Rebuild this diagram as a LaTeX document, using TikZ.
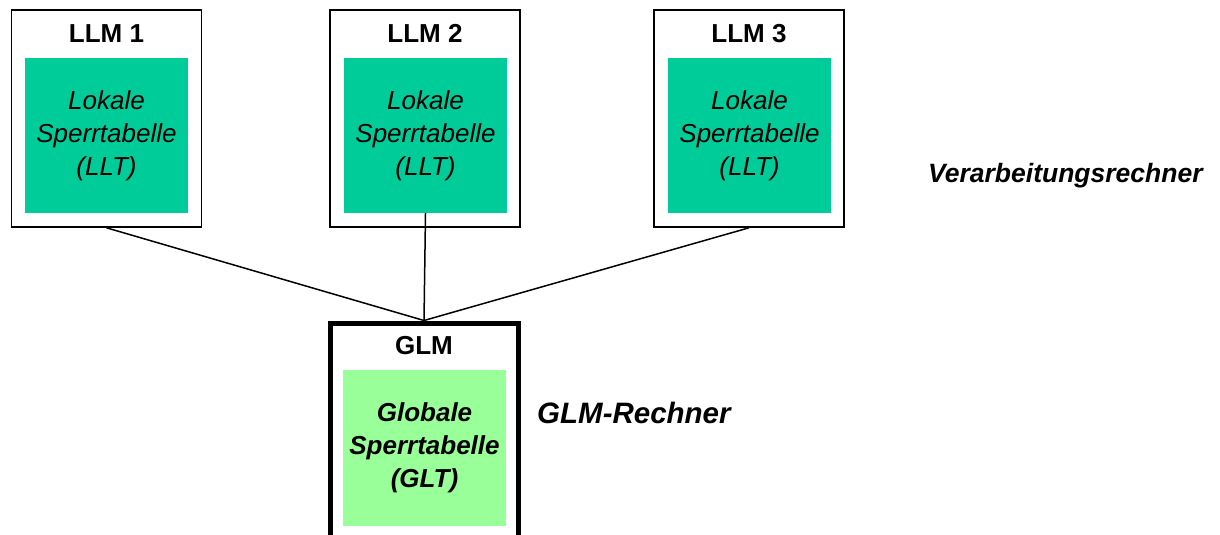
\documentclass[tikz,border=0pt]{standalone}
\usepackage{fontspec}
\setmainfont{Liberation Sans}
\definecolor{llt}{RGB}{0,204,153}
\definecolor{glt}{RGB}{153,255,153}
\begin{document}
\begin{tikzpicture}[x=1pt,y=-1pt,
  llmbox/.style={draw=black,line width=1.6pt,fill=white,minimum width=190pt,minimum height=217pt,inner sep=0pt},
  glmbox/.style={draw=black,line width=5pt,fill=white,minimum width=188pt,minimum height=260pt,inner sep=0pt},
  lltbox/.style={fill=llt,minimum width=163pt,minimum height=155pt,inner sep=0pt,align=center,font=\fontsize{26}{33}\selectfont\itshape},
  gltbox/.style={fill=glt,minimum width=163pt,minimum height=156pt,inner sep=0pt,align=center,font=\fontsize{26}{33}\selectfont\bfseries\itshape},
  title/.style={inner sep=0pt,anchor=base,font=\fontsize{26}{30}\selectfont\bfseries},
  side/.style={inner sep=0pt,anchor=base west,font=\bfseries\itshape},
  conn/.style={draw=black,line width=1.5pt}]
\useasboundingbox (0,0) rectangle (1220,535);
\clip (0,0) rectangle (1220,535);
\fill[white] (0,0) rectangle (1220,535);

% LLM boxes
\node[llmbox] (llm1) at (106.5,118.5) {};
\node[llmbox] (llm2) at (425,118.5) {};
\node[llmbox] (llm3) at (749,118.5) {};
\node[title] (t1) at (106.5,43) {LLM 1};
\node[title] (t2) at (425,43) {LLM 2};
\node[title] (t3) at (749,43) {LLM 3};
\node[lltbox] (g1) at (106.5,135.5) {Lokale\\Sperrtabelle\\(LLT)};
\node[lltbox] (g2) at (425.5,135.5) {Lokale\\Sperrtabelle\\(LLT)};
\node[lltbox] (g3) at (749.5,135.5) {Lokale\\Sperrtabelle\\(LLT)};

% GLM box (extends past the lower edge)
\node[glmbox] (glm) at (424,453) {};
\node[title] (tg) at (424,354) {GLM};
\node[gltbox] (gg) at (424.5,448) {Globale\\Sperrtabelle\\(GLT)};

% connectors
\draw[conn] (llm1.south) -- (glm.north);
\draw[conn] (g2.south) -- (glm.north);
\draw[conn] (llm3.south) -- (glm.north);

% side labels
\node[side,font=\fontsize{26.5}{30}\selectfont\bfseries\itshape] (vr) at (928,182) {Verarbeitungsrechner};
\node[side,font=\fontsize{29.5}{32}\selectfont\bfseries\itshape] (gr) at (537,423) {GLM-Rechner};
\end{tikzpicture}
\end{document}
